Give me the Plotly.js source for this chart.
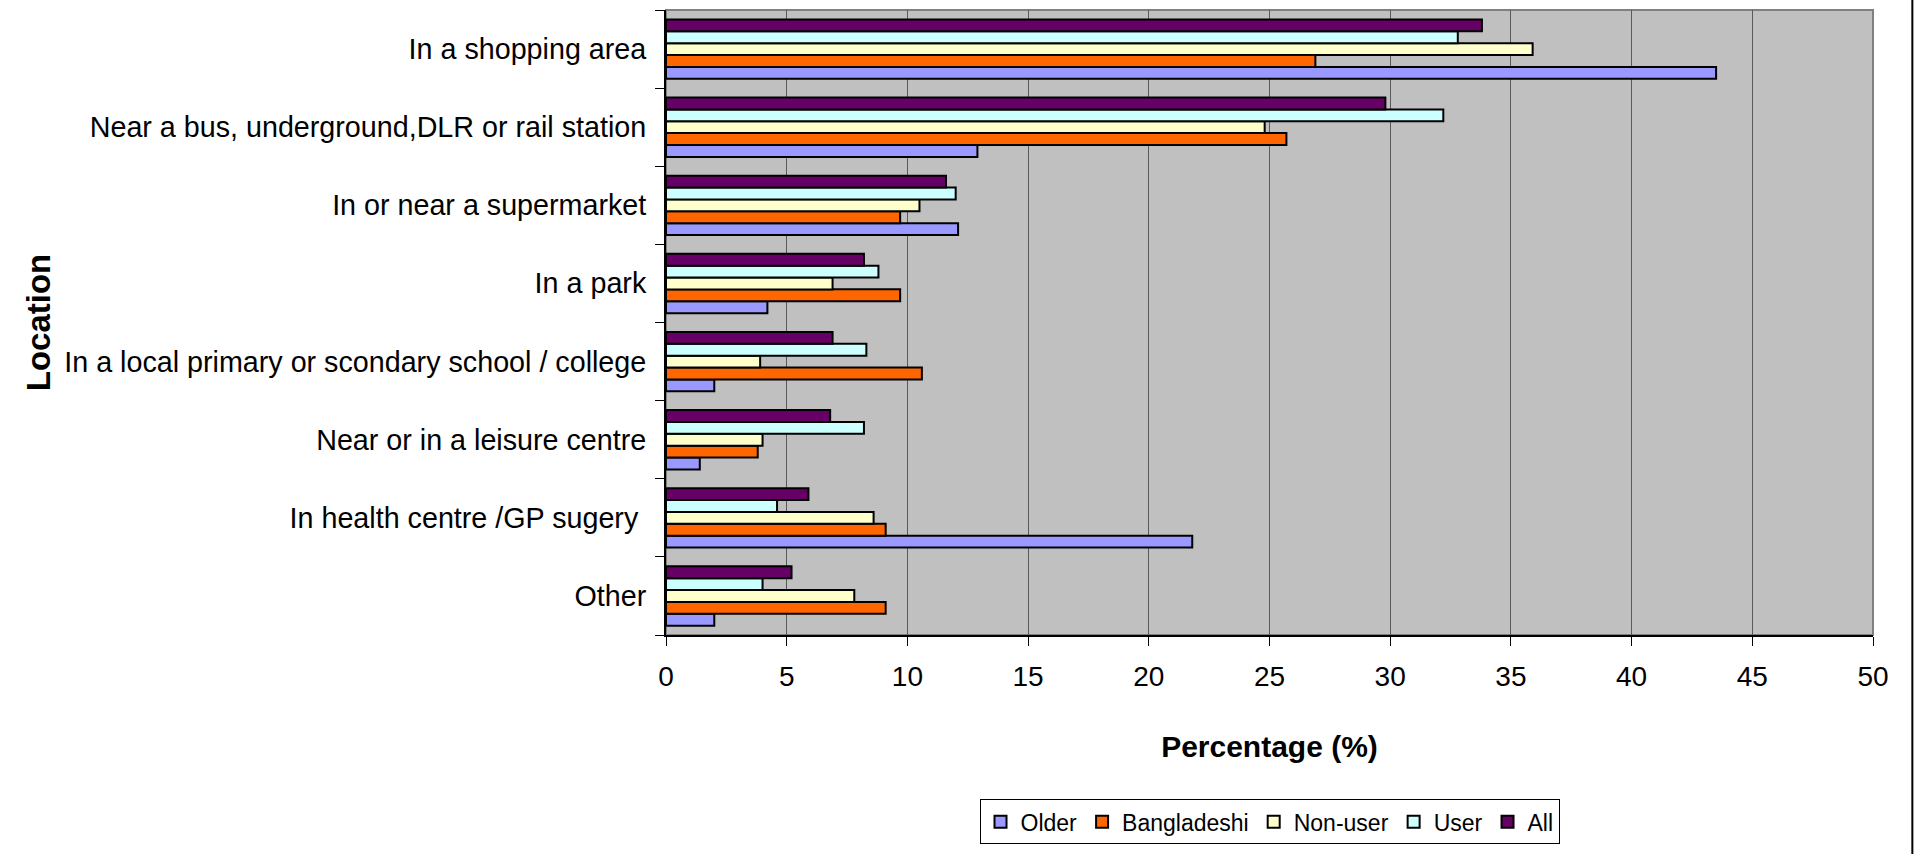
<!DOCTYPE html>
<html>
<head>
<meta charset="utf-8">
<script src="https://cdn.plot.ly/plotly-3.0.1.min.js"></script>
<style>html,body{margin:0;padding:0;background:#fff;}#chart{width:1916px;height:854px;}</style>
</head>
<body>
<div id="chart"></div>
<script>
// Categories, top to bottom as shown in the chart
const categories = [
  "In a shopping area",
  "Near a bus, underground,DLR or rail station",
  "In or near a supermarket",
  "In a park",
  "In a local primary or scondary school / college",
  "Near or in a leisure centre",
  "In health centre /GP sugery\u00a0",
  "Other"
];
const seriesNames = ["Older", "Bangladeshi", "Non-user", "User", "All"];
const older       = [43.5, 12.9, 12.1, 4.2, 2.0, 1.4, 21.8, 2.0];
const bangladeshi = [26.9, 25.7, 9.7, 9.7, 10.6, 3.8, 9.1, 9.1];
const nonUser     = [35.9, 24.8, 10.5, 6.9, 3.9, 4.0, 8.6, 7.8];
const user        = [32.8, 32.2, 12.0, 8.8, 8.3, 8.2, 4.6, 4.0];
const all         = [33.8, 29.8, 11.6, 8.2, 6.9, 6.8, 5.9, 5.2];
const xTickVals = [0, 5, 10, 15, 20, 25, 30, 35, 40, 45, 50];

const seriesValues = [older, bangladeshi, nonUser, user, all];
const colors = ["#9999FF", "#FF6600", "#FFFFCC", "#CCFFFF", "#660066"];

const FONT = "Liberation Sans, Arial, sans-serif";

const traces = seriesValues.map((vals, i) => ({
  type: "bar",
  orientation: "h",
  name: seriesNames[i],
  x: vals,
  y: categories,
  marker: { color: colors[i], line: { color: "#000000", width: 2 } },
  hoverinfo: "x+name"
}));

const layout = {
  width: 1916,
  height: 854,
  margin: { l: 666, r: 43, t: 10, b: 204 },
  paper_bgcolor: "#FFFFFF",
  plot_bgcolor: "#C0C0C0",
  barmode: "group",
  bargap: 0.24,
  bargroupgap: 0,
  font: { family: FONT, color: "#000000" },
  xaxis: {
    range: [0, 50],
    tickmode: "array",
    tickvals: xTickVals,
    ticktext: xTickVals.map(String),
    showgrid: true,
    gridcolor: "#5a5a5a",
    gridwidth: 1,
    zeroline: false,
    showline: true,
    linecolor: "#000000",
    linewidth: 2,
    ticks: "outside",
    ticklen: 9,
    tickcolor: "#000000",
    ticklabelstandoff: 6,
    tickfont: { family: FONT, size: 28, color: "#000000" },
    title: { text: "<b>Percentage (%)</b>", font: { family: FONT, size: 30, color: "#000000" }, standoff: 45 },
    fixedrange: true
  },
  yaxis: {
    type: "category",
    categoryorder: "array",
    categoryarray: categories.slice().reverse(),
    tickson: "boundaries",
    ticks: "outside",
    ticklen: 9,
    tickcolor: "#000000",
    ticklabelstandoff: 12,
    showgrid: false,
    zeroline: false,
    showline: true,
    linecolor: "#000000",
    linewidth: 2,
    tickfont: { family: FONT, size: 28.7, color: "#000000" },
    title: { text: "<b>Location</b>", font: { family: FONT, size: 33, color: "#000000" }, standoff: 4 },
    fixedrange: true
  },
  legend: {
    orientation: "h",
    x: 0.5,
    xanchor: "center",
    y: -0.263,
    yanchor: "top",
    bgcolor: "#FFFFFF",
    bordercolor: "#000000",
    borderwidth: 1,
    font: { family: FONT, size: 23, color: "#000000" },
    itemwidth: 30,
    traceorder: "normal"
  },
  shapes: [
    { type: "rect", xref: "paper", yref: "paper", x0: 0, x1: 1, y0: 0, y1: 1,
      line: { color: "#808080", width: 2 }, layer: "below" },
    { type: "line", xref: "paper", yref: "paper", x0: 1.0326, x1: 1.0326, y0: -0.4, y1: 1.1,
      line: { color: "#000000", width: 2 } }
  ],
  showlegend: true
};

Plotly.newPlot("chart", traces, layout, { displayModeBar: false, staticPlot: true });
</script>
</body>
</html>
